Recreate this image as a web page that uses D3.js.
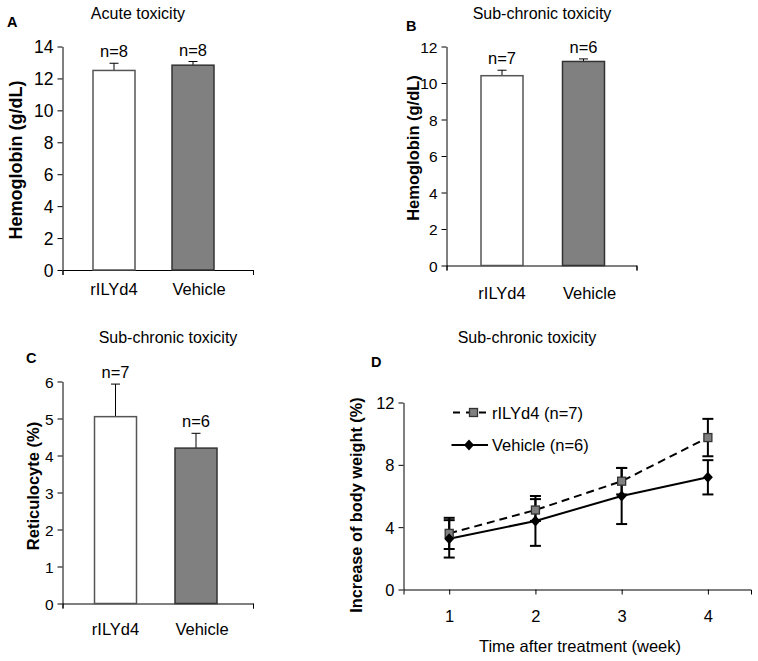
<!DOCTYPE html>
<html>
<head>
<meta charset="utf-8">
<script src="https://cdn.jsdelivr.net/npm/d3@7"></script>
<style>
  body { margin: 0; background: #fff; }
  text { font-family: "Liberation Sans", Arial, sans-serif; fill: #000; }
</style>
</head>
<body>
<script>
//chart data
var groups = ["rILYd4", "Vehicle"]; //bar categories

var hbAcute = [12.5, 12.83]; //panel A hemoglobin means
var hbAcuteErr = [0.45, 0.23];
var hbAcuteN = ["n=8", "n=8"];
var hbAcuteTicks = [0, 2, 4, 6, 8, 10, 12, 14];

var hbSub = [10.4, 11.18]; //panel B hemoglobin means
var hbSubErr = [0.3, 0.14];
var hbSubN = ["n=7", "n=6"];
var hbSubTicks = [0, 2, 4, 6, 8, 10, 12];

var retic = [5.05, 4.2]; //panel C reticulocyte means
var reticErr = [0.88, 0.4];
var reticN = ["n=7", "n=6"];
var reticTicks = [0, 1, 2, 3, 4, 5, 6];

var weeks = [1, 2, 3, 4]; //panel D time points
var bwDrug = [3.6, 5.1, 6.95, 9.75];
var bwDrugErr = [1.0, 0.7, 0.85, 1.2];
var bwVeh = [3.25, 4.4, 6.0, 7.2];
var bwVehErr = [1.2, 1.6, 1.8, 1.1];
var bwTicks = [0, 4, 8, 12];
var legendLabels = ["rILYd4 (n=7)", "Vehicle (n=6)"];

var svg = d3.select("body").append("svg")
  .attr("width", 758)
  .attr("height", 661);

//draw one bar panel
function drawBarPanel(p){
  var g = svg.append("g");

  var y = d3.scaleLinear().domain([0, p.max]).range([p.bottom, p.top]);
  var x = d3.scalePoint().domain(groups).range([p.left + p.c1, p.left + p.c2]);
  var xl = d3.scaleLinear().domain([0, 1]).range([p.left, p.right]);

  //y axis
  var ya = g.append("g")
    .attr("transform", "translate(" + p.left + ",0)")
    .call(d3.axisLeft(y).tickValues(p.ticks).tickFormat(d3.format("d"))
      .tickSize(5).tickSizeOuter(0).tickPadding(4));
  ya.selectAll("text").attr("font-size", p.tickFont).attr("font-family", null).attr("dy", "0.36em");
  ya.selectAll("path,line").attr("stroke", "#000");

  //x axis, ticks only at both ends
  var xa = g.append("g")
    .attr("transform", "translate(0," + p.bottom + ")")
    .call(d3.axisBottom(xl).tickValues([0, 1]).tickFormat("").tickSize(5).tickSizeOuter(5));
  xa.selectAll("path,line").attr("stroke", "#000");

  //error bars (upper only)
  groups.forEach(function(k, i){
    var cx = x(k), top = y(p.values[i] + p.errs[i]);
    g.append("line").attr("x1", cx).attr("x2", cx)
      .attr("y1", y(p.values[i])).attr("y2", top)
      .attr("stroke", "#000").attr("stroke-width", 1);
    g.append("line").attr("x1", cx - 4.5).attr("x2", cx + 4.5)
      .attr("y1", top).attr("y2", top)
      .attr("stroke", "#000").attr("stroke-width", 1);
  });

  //bars
  g.selectAll(".bar")
    .data(p.values)
    .enter()
    .append("rect")
    .attr("x", function(d, i){ return x(groups[i]) - 21; })
    .attr("y", function(d){ return y(d); })
    .attr("width", 42)
    .attr("height", function(d){ return p.bottom - y(d); })
    .attr("fill", function(d, i){ return i == 0 ? "#fff" : "#808080"; })
    .attr("stroke", function(d, i){ return i == 0 ? "#555" : "#333"; })
    .attr("stroke-width", 1.5);

  //n labels above error bars
  g.selectAll(".nlab")
    .data(p.ns)
    .enter()
    .append("text")
    .attr("x", function(d, i){ return x(groups[i]); })
    .attr("y", function(d, i){ return y(p.values[i] + p.errs[i]) - 6; })
    .attr("text-anchor", "middle")
    .attr("font-size", 16.5)
    .text(function(d){ return d; });

  //category labels
  g.selectAll(".cat")
    .data(groups)
    .enter()
    .append("text")
    .attr("x", function(d, i){ return x(d) + (i == 1 ? 6 : 0); })
    .attr("y", p.catY)
    .attr("text-anchor", "middle")
    .attr("font-size", 16.5)
    .text(function(d){ return d; });

  //titles
  g.append("text").attr("x", p.titleX).attr("y", p.titleY)
    .attr("text-anchor", "middle").attr("font-size", 16).text(p.title);
  g.append("text").attr("x", p.letterX).attr("y", p.letterY)
    .attr("font-size", 14.5).attr("font-weight", "bold").text(p.letter);
  g.append("text")
    .attr("transform", "translate(" + p.ytX + "," + p.ytY + ") rotate(-90)")
    .attr("text-anchor", "middle").attr("font-size", p.ytFont).attr("font-weight", "bold")
    .text(p.yTitle);
}

drawBarPanel({
  values: hbAcute, errs: hbAcuteErr, ns: hbAcuteN, ticks: hbAcuteTicks, max: 14,
  left: 62.5, right: 253, top: 46.5, bottom: 270, c1: 51.5, c2: 130.5,
  tickFont: 17.5, catY: 295, title: "Acute toxicity", titleX: 138, titleY: 19,
  letter: "A", letterX: 7, letterY: 27, yTitle: "Hemoglobin (g/dL)", ytX: 21.5, ytY: 160, ytFont: 18
});

drawBarPanel({
  values: hbSub, errs: hbSubErr, ns: hbSubN, ticks: hbSubTicks, max: 12,
  left: 446.5, right: 636.5, top: 46.5, bottom: 265.5, c1: 55.5, c2: 137,
  tickFont: 15.5, catY: 299, title: "Sub-chronic toxicity", titleX: 542, titleY: 19,
  letter: "B", letterX: 406, letterY: 31, yTitle: "Hemoglobin (g/dL)", ytX: 418.5, ytY: 148, ytFont: 16.5
});

drawBarPanel({
  values: retic, errs: reticErr, ns: reticN, ticks: reticTicks, max: 6,
  left: 62.5, right: 253, top: 381.5, bottom: 603.5, c1: 53, c2: 133.5,
  tickFont: 15.5, catY: 635, title: "Sub-chronic toxicity", titleX: 168, titleY: 343,
  letter: "C", letterX: 26, letterY: 363, yTitle: "Reticulocyte (%)", ytX: 38.5, ytY: 486, ytFont: 16.5
});

//panel D: body weight over time
(function(){
  var g = svg.append("g");
  var left = 403.5, bottom = 589.5;
  var x = d3.scaleLinear().domain([0.47, 4.5]).range([left, 751]);
  var y = d3.scaleLinear().domain([0, 12]).range([bottom, 402.5]);

  var ya = g.append("g")
    .attr("transform", "translate(" + left + ",0)")
    .call(d3.axisLeft(y).tickValues(bwTicks).tickFormat(d3.format("d"))
      .tickSize(5).tickSizeOuter(0).tickPadding(4));
  ya.selectAll("text").attr("font-size", 16.5).attr("font-family", null).attr("dy", "0.36em");
  ya.selectAll("path,line").attr("stroke", "#000");

  var xa = g.append("g")
    .attr("transform", "translate(0," + bottom + ")")
    .call(d3.axisBottom(x).tickValues(weeks).tickFormat(d3.format("d"))
      .tickSize(5).tickSizeOuter(5).tickPadding(16));
  xa.selectAll("text").attr("font-size", 16.5).attr("font-family", null);
  xa.selectAll("path,line").attr("stroke", "#000");

  //error bars for both series
  function errBars(vals, errs){
    weeks.forEach(function(w, i){
      var cx = x(w), hi = y(vals[i] + errs[i]), lo = y(vals[i] - errs[i]);
      g.append("line").attr("x1", cx).attr("x2", cx).attr("y1", hi).attr("y2", lo)
        .attr("stroke", "#000").attr("stroke-width", 2);
      [hi, lo].forEach(function(yy){
        g.append("line").attr("x1", cx - 5.5).attr("x2", cx + 5.5).attr("y1", yy).attr("y2", yy)
          .attr("stroke", "#000").attr("stroke-width", 2);
      });
    });
  }
  errBars(bwDrug, bwDrugErr);
  errBars(bwVeh, bwVehErr);

  var line = d3.line()
    .x(function(d, i){ return x(weeks[i]); })
    .y(function(d){ return y(d); });

  g.append("path").datum(bwDrug).attr("d", line)
    .attr("fill", "none").attr("stroke", "#000").attr("stroke-width", 2).attr("stroke-dasharray", "8,5");
  g.append("path").datum(bwVeh).attr("d", line)
    .attr("fill", "none").attr("stroke", "#000").attr("stroke-width", 2);

  var diamond = "M0,-5.5L5,0L0,5.5L-5,0Z";

  g.selectAll(".sq")
    .data(bwDrug)
    .enter()
    .append("rect")
    .attr("x", function(d, i){ return x(weeks[i]) - 4; })
    .attr("y", function(d){ return y(d) - 4; })
    .attr("width", 8).attr("height", 8)
    .attr("fill", "#808080").attr("stroke", "#333").attr("stroke-width", 1.3);

  g.selectAll(".dm")
    .data(bwVeh)
    .enter()
    .append("path")
    .attr("d", diamond)
    .attr("transform", function(d, i){ return "translate(" + x(weeks[i]) + "," + y(d) + ")"; })
    .attr("fill", "#000");

  //legend
  var lg = g.append("g");
  lg.append("line").attr("x1", 453).attr("x2", 488).attr("y1", 412.5).attr("y2", 412.5)
    .attr("stroke", "#000").attr("stroke-width", 2).attr("stroke-dasharray", "7,6");
  lg.append("rect").attr("x", 469.5).attr("y", 408.5).attr("width", 8).attr("height", 8)
    .attr("fill", "#808080").attr("stroke", "#333").attr("stroke-width", 1.3);
  lg.append("text").attr("x", 492).attr("y", 418.5).attr("font-size", 16.5).text(legendLabels[0]);
  lg.append("line").attr("x1", 451.5).attr("x2", 488).attr("y1", 445).attr("y2", 445)
    .attr("stroke", "#000").attr("stroke-width", 2);
  lg.append("path").attr("d", diamond).attr("transform", "translate(469,445)").attr("fill", "#000");
  lg.append("text").attr("x", 492).attr("y", 451).attr("font-size", 16.5).text(legendLabels[1]);

  //titles
  g.append("text").attr("x", 527).attr("y", 343).attr("text-anchor", "middle")
    .attr("font-size", 16).text("Sub-chronic toxicity");
  g.append("text").attr("x", 371).attr("y", 367).attr("font-size", 14.5)
    .attr("font-weight", "bold").text("D");
  g.append("text")
    .attr("transform", "translate(362,505) rotate(-90)")
    .attr("text-anchor", "middle").attr("font-size", 16.3).attr("font-weight", "bold")
    .text("Increase of body weight (%)");
  g.append("text").attr("x", 580).attr("y", 652).attr("text-anchor", "middle")
    .attr("font-size", 16.5).text("Time after treatment (week)");
})();
</script>
</body>
</html>
